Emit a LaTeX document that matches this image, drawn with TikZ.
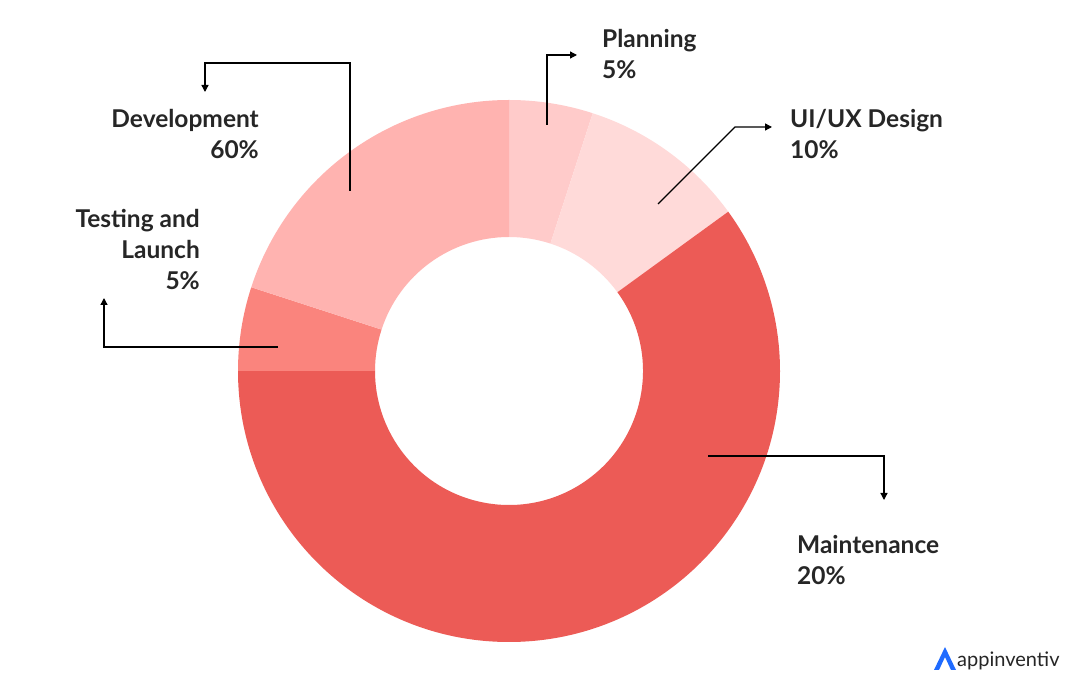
\documentclass[tikz,border=0pt]{standalone}
\usepackage{fontspec}
\setmainfont{Lato}
\usetikzlibrary{calc,arrows.meta}
\definecolor{cplan}{HTML}{FFCBCA}
\definecolor{cux}{HTML}{FFDAD9}
\definecolor{cmain}{HTML}{EC5B56}
\definecolor{ctest}{HTML}{FA847D}
\definecolor{cdev}{HTML}{FFB3B0}
\definecolor{cblue}{HTML}{1F6BFF}
\tikzset{
  lbl/.style={font=\fontsize{24.5}{31}\selectfont\bfseries, inner sep=0pt, text=black!85},
  conn/.style={draw=black, line width=1.3pt, -{Triangle[length=7pt,width=7pt]}},
}
\newcommand{\seg}[3]{\fill[#1] ($(c)+(#2:271)$) arc[start angle=#2,end angle=#3,radius=271] -- ($(c)+(#3:134)$) arc[start angle=#3,end angle=#2,radius=134] -- cycle;}
\begin{document}
\begin{tikzpicture}[x=1pt,y=1pt]
\useasboundingbox (0,0) rectangle (1080,699);
\fill[white] (0,0) rectangle (1080,699);
\coordinate (c) at (509,328);
\seg{cplan}{72}{90}
\seg{cux}{36}{72}
\seg{cmain}{-180}{36}
\seg{ctest}{162}{180}
\seg{cdev}{90}{162}
% labels
\node[lbl,anchor=north west,align=left] (tplan) at (602,670) {Planning\\5\%};
\node[lbl,anchor=north west,align=left] (tux) at (790,590) {UI/UX Design\\10\%};
\node[lbl,anchor=north west,align=left] (tmain) at (797,164) {Maintenance\\20\%};
\node[lbl,anchor=north east,align=right] (ttest) at (200,490) {Testing and\\Launch\\5\%};
\node[lbl,anchor=north east,align=right] (tdev) at (259,590) {Development\\60\%};
% connector points
\coordinate (p1) at (547,574); \coordinate (p2) at (577,644);
\draw[conn] (p1) |- (p2);
\coordinate (u1) at (658,495); \coordinate (u2) at (735,572); \coordinate (u3) at (772,572);
\draw[conn] (u1) -- (u2) -- (u3);
\coordinate (m1) at (708,243); \coordinate (m2) at (884,199);
\draw[conn] (m1) -| (m2);
\coordinate (t1) at (278,352); \coordinate (t2) at (104,401);
\draw[conn] (t1) -| (t2);
\coordinate (d1) at (350,508); \coordinate (d2) at (350,636); \coordinate (d3) at (205,607);
\draw[conn] (d1) -- (d2) -| (d3);
% logo
\fill[cblue] (934,29) -- (945,52) -- (956,29) -- (951,29) -- (945,42) -- (939,29) -- cycle;
\node[font=\fontsize{20}{24}\selectfont, anchor=west, inner sep=0pt, text=black!85] (logo) at (957,38) {appinventiv};
\end{tikzpicture}
\end{document}
